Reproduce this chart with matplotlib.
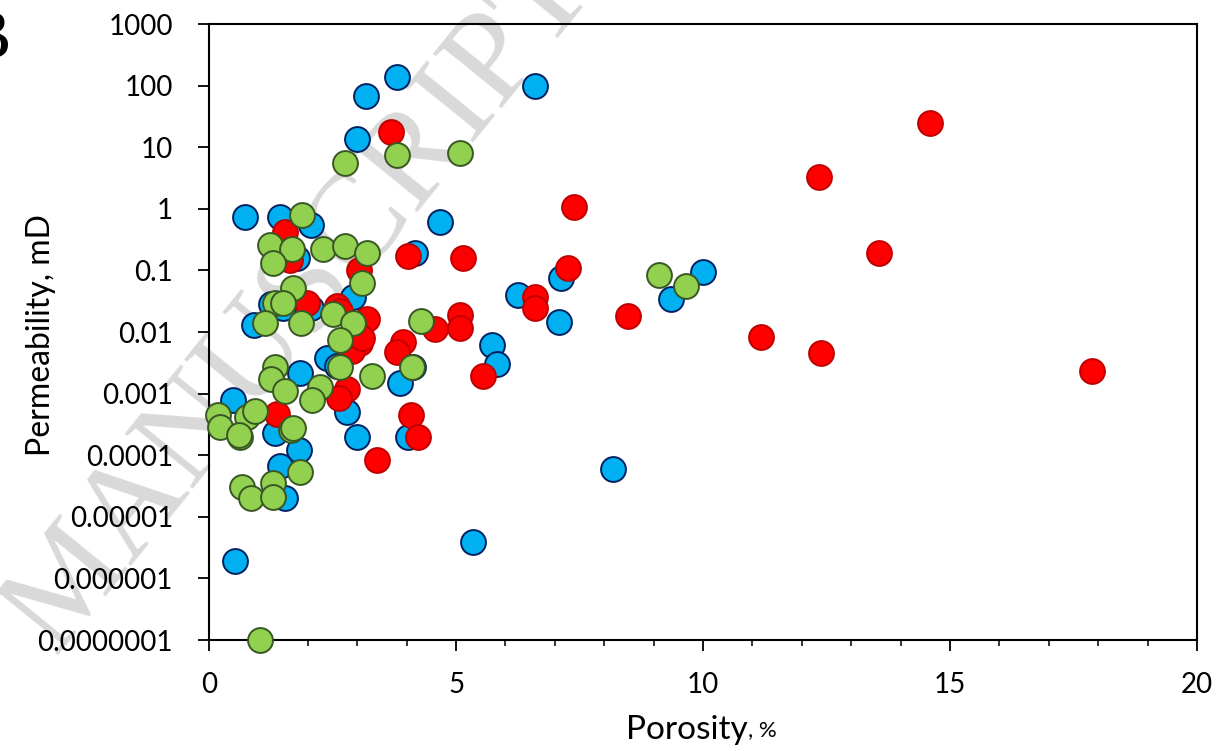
import numpy as np
import matplotlib.pyplot as plt
from matplotlib.ticker import LogLocator, NullFormatter

# porosity (%) / permeability (mD)
blue_x = [3.81, 6.6, 3.18, 3.0, 0.73, 1.44, 2.06, 4.68, 4.17, 1.78, 10.0,
          7.13, 9.35, 6.26, 7.08, 5.73, 5.83, 8.18, 5.34, 0.53, 0.49, 0.9,
          1.26, 1.5, 2.06, 2.92, 2.39, 2.59, 1.84, 3.87, 4.12, 2.79, 3.0,
          4.03, 1.34, 1.82, 1.44, 1.54]
blue_y = [138, 98, 68, 13.5, 0.74, 0.74, 0.55, 0.6, 0.19, 0.16, 0.095,
          0.076, 0.035, 0.04, 0.0145, 0.0062, 0.003, 6e-5, 3.9e-6, 1.9e-6, 8e-4, 0.013,
          0.028, 0.025, 0.025, 0.037, 0.0038, 0.0028, 0.0022, 0.0015, 0.0027, 5e-4, 2e-4,
          2e-4, 2.3e-4, 1.2e-4, 6.6e-5, 2e-5]

red_x = [3.68, 14.6, 12.35, 7.39, 7.27, 13.56, 8.48, 11.17, 12.39, 17.87,
         1.54, 1.64, 4.03, 5.14, 3.04, 1.98, 2.59, 2.65, 3.2, 6.6, 6.6,
         5.08, 5.08, 4.57, 3.93, 3.8, 3.06, 2.9, 3.1, 2.79, 2.63, 5.55,
         4.09, 4.23, 3.4, 1.37]
red_y = [18, 25, 3.3, 1.07, 0.11, 0.19, 0.018, 0.0083, 0.0046, 0.0023,
         0.42, 0.15, 0.17, 0.16, 0.1, 0.03, 0.026, 0.022, 0.016, 0.037, 0.025,
         0.019, 0.0115, 0.011, 0.0069, 0.0048, 0.0066, 0.005, 0.008, 0.0012, 8.5e-4, 0.0019,
         4.5e-4, 2e-4, 8.3e-5, 4.7e-4]

green_x = [2.75, 3.8, 5.08, 1.88, 1.23, 1.68, 1.3, 2.3, 2.75, 3.2, 3.1,
           1.7, 1.34, 1.5, 1.13, 1.86, 2.51, 2.92, 2.65, 4.29, 9.1, 9.66,
           2.65, 3.3, 4.1, 1.34, 1.25, 1.54, 2.25, 2.08, 0.18, 0.22, 0.77,
           0.93, 0.63, 0.6, 1.66, 1.7, 1.84, 0.67, 0.85, 1.3, 1.3, 1.03]
green_y = [5.5, 7.5, 8.1, 0.78, 0.26, 0.22, 0.13, 0.22, 0.25, 0.19, 0.063,
           0.051, 0.03, 0.03, 0.014, 0.014, 0.0195, 0.014, 0.0074, 0.015, 0.085, 0.056,
           0.0027, 0.0019, 0.0027, 0.0027, 0.0017, 0.0011, 0.0013, 8e-4, 4.5e-4, 2.9e-4, 4.2e-4,
           5.2e-4, 2e-4, 2.1e-4, 2.6e-4, 2.8e-4, 5.4e-5, 3e-5, 2e-5, 3.6e-5, 2.1e-5, 1e-7]

ytick_vals = [1e-7, 1e-6, 1e-5, 1e-4, 1e-3, 1e-2, 1e-1, 1, 10, 100, 1000]
ytick_labels = ['0.0000001', '0.000001', '0.00001', '0.0001', '0.001', '0.01',
                '0.1', '1', '10', '100', '1000']

plt.rcParams['font.family'] = ['Lato', 'DejaVu Sans']

fig = plt.figure(figsize=(12.19, 7.51), dpi=100)
ax = fig.add_axes([0.1715, 0.1478, 0.8105, 0.8202])
ax.set_zorder(2)
ax.patch.set_alpha(0)

# faint watermark behind the plot
fig.text(0.246, 0.60, 'MANUSCRIPT', rotation=51, fontsize=96,
         family=['Liberation Serif', 'DejaVu Serif'], color='#d9d9d9',
         ha='center', va='center', zorder=0)

ms = 320
ax.scatter(blue_x, blue_y, s=ms, c='#00B0F0', edgecolors='#002060',
           linewidths=1.4, zorder=3, clip_on=False)
ax.scatter(red_x, red_y, s=ms, c='#FF0000', edgecolors='#C00000',
           linewidths=1.4, zorder=4, clip_on=False)
ax.scatter(green_x, green_y, s=ms, c='#92D050', edgecolors='#385723',
           linewidths=1.4, zorder=5, clip_on=False)

ax.set_yscale('log')
ax.set_xlim(0, 20)
ax.set_ylim(1e-7, 1000)
ax.set_yticks(ytick_vals)
ax.set_yticklabels(ytick_labels)
ax.yaxis.set_minor_locator(LogLocator(base=10, subs=np.arange(2, 10)))
ax.yaxis.set_minor_formatter(NullFormatter())
ax.set_xticks([0, 5, 10, 15, 20])
ax.set_xticks(np.arange(0, 21, 1), minor=True)

ax.tick_params(which='major', direction='out', length=8, width=1.3, labelsize=20,
               top=False, right=False)
ax.tick_params(which='minor', direction='out', length=4, width=1.1, top=False, right=False)
ax.tick_params(axis='y', which='major', pad=18)
ax.tick_params(axis='x', which='major', pad=15)
for sp in ax.spines.values():
    sp.set_linewidth(1.5)

fig.text(0.034, 0.554, 'Permeability, mD', rotation=90, fontsize=23,
         ha='center', va='center')
fig.text(0.6136, 0.028, 'Porosity', fontsize=24, ha='right', va='center')
fig.text(0.6136, 0.028, ', %', fontsize=16, ha='left', va='center')

fig.text(0.009, 0.945, 'B', fontsize=50, ha='right', va='center',
         family=['Liberation Serif', 'DejaVu Serif'])

fig.savefig('out.png', dpi=100)
